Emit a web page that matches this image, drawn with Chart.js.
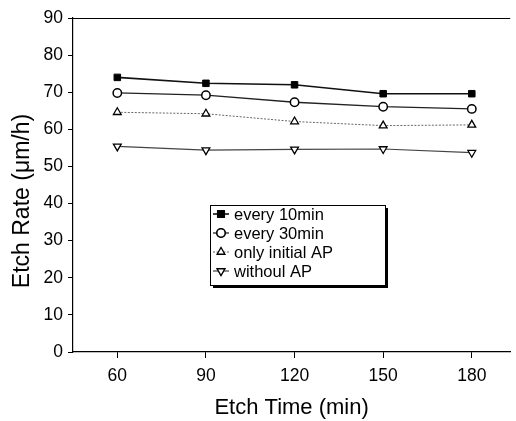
<!DOCTYPE html>
<html><head><meta charset="utf-8">
<script src="https://cdn.jsdelivr.net/npm/chart.js@4/dist/chart.umd.min.js"></script>
<style>html,body{margin:0;padding:0;background:#fff}#wrap{width:516px;height:421px}</style>
</head><body><div id="wrap"><canvas id="c" width="516" height="421"></canvas></div>
<script>
const etchTimes = [60, 90, 120, 150, 180];
const every10min = [74.0, 72.4, 72.0, 69.6, 69.6];
const every30min = [69.8, 69.2, 67.3, 66.1, 65.5];
const onlyInitialAP = [64.6, 64.2, 62.1, 61.0, 61.2];
const withoutAP = [55.4, 54.4, 54.6, 54.7, 53.7];
const seriesNames = ['every 10min', 'every 30min', 'only initial AP', 'withoul AP'];
const yTicks = [0,10,20,30,40,50,60,70,80,90];
const xTicks = etchTimes;
const yTitle = 'Etch Rate (\u03bcm/h)';
const xTitle = 'Etch Time (min)';

const FONT = '"Liberation Sans", Arial, sans-serif';
const pts = arr => arr.map((v,i)=>({x:etchTimes[i], y:v}));

const datasets = [
 {label:seriesNames[0], data:pts(every10min), borderColor:'#111', borderWidth:1.6, pointStyle:'rect', pointRadius:4.6, pointBackgroundColor:'#000', pointBorderColor:'#000', pointBorderWidth:1},
 {label:seriesNames[1], data:pts(every30min), borderColor:'#222', borderWidth:1.3, pointStyle:'circle', pointRadius:4.2, pointBackgroundColor:'#fff', pointBorderColor:'#000', pointBorderWidth:1.5},
 {label:seriesNames[2], data:pts(onlyInitialAP), borderColor:'#666', borderWidth:1, borderDash:[2,1.5], pointStyle:'triangle', pointRadius:4.5, pointBackgroundColor:'#fff', pointBorderColor:'#000', pointBorderWidth:1.3},
 {label:seriesNames[3], data:pts(withoutAP), borderColor:'#444', borderWidth:1.2, pointStyle:'triangle', pointRotation:180, pointRadius:4.5, pointBackgroundColor:'#fff', pointBorderColor:'#000', pointBorderWidth:1.3}
];

const framePlugin = {
 id:'frame',
 afterDraw(chart){
  const {ctx, chartArea:a} = chart;
  ctx.save();
  ctx.strokeStyle='#000'; ctx.lineWidth=1.2;
  ctx.beginPath(); ctx.moveTo(a.left, a.top+0.5); ctx.lineTo(a.right, a.top+0.5); ctx.stroke();
  // y axis title
  ctx.save();
  ctx.translate(23, 201); ctx.rotate(-Math.PI/2);
  ctx.font='23px '+FONT; ctx.fillStyle='#000'; ctx.textAlign='center'; ctx.textBaseline='middle';
  ctx.fillText(yTitle, 0, 0);
  ctx.restore();
  // legend box
  const bx=210, by=205, bw=175, bh=80;
  ctx.fillStyle='#000'; ctx.fillRect(bx+3, by+3, bw, bh);
  ctx.fillStyle='#fff'; ctx.fillRect(bx, by, bw, bh);
  ctx.lineWidth=1; ctx.strokeStyle='#000'; ctx.strokeRect(bx+0.5, by+0.5, bw, bh);
  const rows=[214,233,252,271];
  ctx.font='16.5px '+FONT; ctx.textBaseline='middle'; ctx.textAlign='left';
  chart.data.datasets.forEach((ds,i)=>{
   const y=rows[i];
   ctx.strokeStyle=ds.borderColor; ctx.lineWidth=ds.borderWidth;
   ctx.setLineDash(ds.borderDash||[]);
   ctx.beginPath(); ctx.moveTo(213,y); ctx.lineTo(229,y); ctx.stroke();
   ctx.setLineDash([]);
   Chart.helpers.drawPoint(ctx, {pointStyle:ds.pointStyle, rotation:ds.pointRotation||0, radius:ds.pointRadius, borderWidth:ds.pointBorderWidth}, 221, y);
   ctx.fillStyle=ds.pointBackgroundColor; ctx.strokeStyle=ds.pointBorderColor; ctx.lineWidth=ds.pointBorderWidth;
   ctx.fill(); ctx.stroke();
   ctx.fillStyle='#000';
   ctx.fillText(ds.label, 234, y+1);
  });
  ctx.restore();
 }
};

new Chart(document.getElementById('c'), {
 type:'line',
 data:{datasets},
 options:{
  responsive:false, animation:false,
  layout:{padding:{top:18,right:0,left:0,bottom:0}},
  plugins:{legend:{display:false}, tooltip:{enabled:false}},
  scales:{
   x:{type:'linear', min:45, max:193,
      afterBuildTicks(s){ s.ticks = xTicks.map(v=>({value:v})); },
      afterFit(s){ s.height = 69; },
      grid:{display:true, drawOnChartArea:false, drawTicks:true, tickLength:6, tickColor:'#000', tickWidth:1},
      border:{color:'#000', width:1.2},
      ticks:{color:'#000', font:{family:FONT, size:17.5}, padding:8, maxRotation:0},
      title:{display:true, text:xTitle, color:'#000', font:{family:FONT, size:22}, padding:{top:8,bottom:0}}
   },
   y:{min:0, max:90,
      afterBuildTicks(s){ s.ticks = yTicks.map(v=>({value:v})); },
      afterFit(s){ s.width = 73; },
      grid:{display:true, drawOnChartArea:false, drawTicks:true, tickLength:5, tickColor:'#000', tickWidth:1},
      border:{color:'#000', width:1.2},
      ticks:{color:'#000', font:{family:FONT, size:17.5}, padding:5},
      title:{display:false}
   }
  }
 },
 plugins:[framePlugin]
});
</script></body></html>
